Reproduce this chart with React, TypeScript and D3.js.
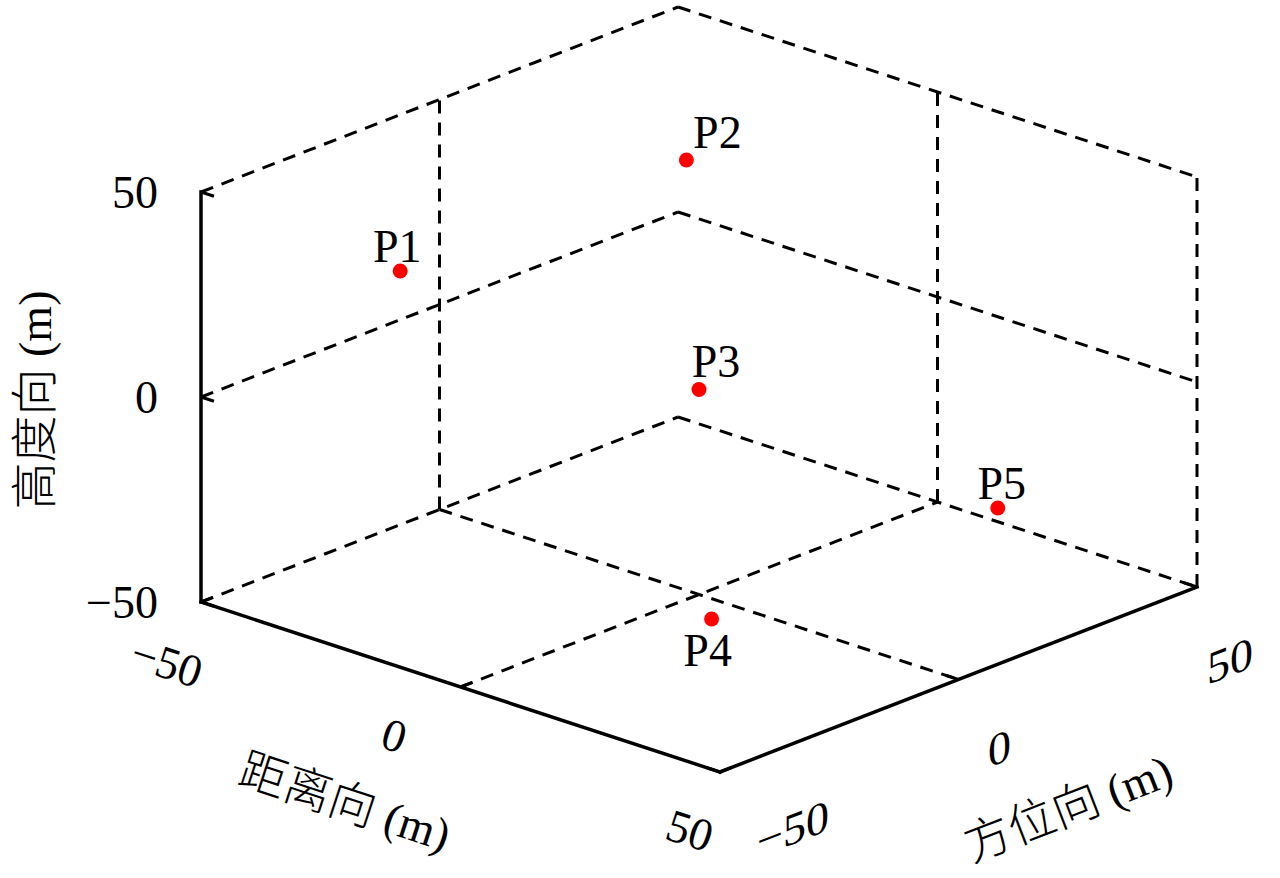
import React from 'react';
import * as d3 from 'd3';

// ticks on the three axes (m)
const rangeTicks = [-50, 0, 50];
const azimuthTicks = [-50, 0, 50];
const heightTicks = [-50, 0, 50];

// point targets: range, azimuth, height (m)
const pointNames = ['P1', 'P2', 'P3', 'P4', 'P5'];
const pointRange = [-30, -30, 0, 30, 30];
const pointAzimuth = [-30, 30, 0, -30, 30];
const pointHeight = [30, 30, 0, -30, -30];

// view: pixel position of the (-50,-50,-50) corner and the axis vectors
const ORIGIN = [201, 602];
const R_VEC = [519, 170];
const A_VEC = [477, -185];
const H_VEC = [0, -410];

const labelNudge = [[-3, -25], [31, -28], [17, -29], [-4, 31], [4, -25]];
const rangeLabelNudge = [[-34, 60], [-66, 48], [-30, 58]];
const azimuthLabelNudge = [[73, 56], [41, 68], [33, 73]];

const SERIF = '"Liberation Serif", "DejaVu Serif", serif';
const CJK = '"Noto Sans CJK SC", sans-serif';

export default function App() {
  const width = 1280;
  const height = 878;

  const rs = d3.scaleLinear().domain([-50, 50]).range([0, 1]);
  const as = d3.scaleLinear().domain([-50, 50]).range([0, 1]);
  const hs = d3.scaleLinear().domain([-50, 50]).range([0, 1]);

  const proj = (r: number, a: number, h: number): [number, number] => {
    const fr = rs(r), fa = as(a), fh = hs(h);
    return [
      ORIGIN[0] + fr * R_VEC[0] + fa * A_VEC[0] + fh * H_VEC[0],
      ORIGIN[1] + fr * R_VEC[1] + fa * A_VEC[1] + fh * H_VEC[1],
    ];
  };
  const line = d3.line();
  const seg = (p: number[], q: number[]) =>
    line([proj(p[0], p[1], p[2]), proj(q[0], q[1], q[2])]) as string;

  const [rMin, rMax] = rs.domain();
  const [aMin, aMax] = as.domain();
  const [hMin, hMax] = hs.domain();
  const inner = (v: number, lo: number, hi: number) => v !== lo && v !== hi;

  // dashed grid / back box lines
  const dashed: string[] = [];
  heightTicks.forEach(h => dashed.push(seg([rMin, aMin, h], [rMin, aMax, h])));
  azimuthTicks.filter(a => inner(a, aMin, aMax)).forEach(a => dashed.push(seg([rMin, a, hMin], [rMin, a, hMax])));
  heightTicks.forEach(h => dashed.push(seg([rMin, aMax, h], [rMax, aMax, h])));
  rangeTicks.filter(r => r !== rMin).forEach(r => dashed.push(seg([r, aMax, hMin], [r, aMax, hMax])));
  rangeTicks.filter(r => inner(r, rMin, rMax)).forEach(r => dashed.push(seg([r, aMin, hMin], [r, aMax, hMin])));
  azimuthTicks.filter(a => inner(a, aMin, aMax)).forEach(a => dashed.push(seg([rMin, a, hMin], [rMax, a, hMin])));

  // solid axes
  const solid = [
    seg([rMin, aMin, hMin], [rMin, aMin, hMax]),
    seg([rMin, aMin, hMin], [rMax, aMin, hMin]),
    seg([rMax, aMin, hMin], [rMax, aMax, hMin]),
  ];
  const tickLen = 2.5;
  const ticks = [
    ...heightTicks.map(h => seg([rMin, aMin, h], [rMin + tickLen, aMin, h])),
    ...rangeTicks.map(r => seg([r, aMin, hMin], [r, aMin + tickLen, hMin])),
    ...azimuthTicks.map(a => seg([rMax, a, hMin], [rMax - tickLen, a, hMin])),
  ];

  const fmt = (v: number) => (v < 0 ? '\u2212' + Math.abs(v) : String(v));
  const rAngle = (Math.atan2(R_VEC[1], R_VEC[0]) * 180) / Math.PI;
  const aAngle = (Math.atan2(A_VEC[1], A_VEC[0]) * 180) / Math.PI;

  return (
    <svg width={width} height={height} style={{ position: 'absolute', left: 0, top: 0, background: '#fff' }}>
      <g fill="none" stroke="#000">
        {dashed.map((d, i) => (
          <path key={'d' + i} d={d} strokeWidth={3} strokeDasharray="13,9" />
        ))}
        {solid.map((d, i) => (
          <path key={'s' + i} d={d} strokeWidth={3.5} strokeLinecap="square" />
        ))}
        {ticks.map((d, i) => (
          <path key={'t' + i} d={d} strokeWidth={3} />
        ))}
      </g>

      {/* height tick labels */}
      {heightTicks.map(h => {
        const [, y] = proj(rMin, aMin, h);
        return (
          <text key={'h' + h} x={158} y={y} dy="0.35em" textAnchor="end" fontFamily={SERIF} fontSize={46}>
            {fmt(h)}
          </text>
        );
      })}
      {/* range tick labels */}
      {rangeTicks.map((r, i) => {
        const [x, y] = proj(r, aMin, hMin);
        const cx = x + rangeLabelNudge[i][0];
        const cy = y + rangeLabelNudge[i][1];
        return (
          <text key={'r' + r} transform={`translate(${cx},${cy}) rotate(${rAngle})`} dy="0.35em"
            textAnchor="middle" fontFamily={SERIF} fontSize={46}>
            {fmt(r)}
          </text>
        );
      })}
      {/* azimuth tick labels */}
      {azimuthTicks.map((a, i) => {
        const [x, y] = proj(rMax, a, hMin);
        const cx = x + azimuthLabelNudge[i][0];
        const cy = y + azimuthLabelNudge[i][1];
        return (
          <text key={'a' + a} transform={`translate(${cx},${cy}) skewY(${aAngle})`} dy="0.35em"
            textAnchor="middle" fontFamily={SERIF} fontSize={46}>
            {fmt(a)}
          </text>
        );
      })}

      {/* axis titles */}
      <text transform={`translate(35,400) rotate(-90)`} dy="0.35em" textAnchor="middle" fontFamily={SERIF} fontSize={46}>
        <tspan fontFamily={CJK} fontWeight={300} fontSize={47}>高度向</tspan> (m)
      </text>
      <text transform={`translate(345,802) rotate(${rAngle})`} dy="0.35em" textAnchor="middle" fontFamily={SERIF} fontSize={46}>
        <tspan fontFamily={CJK} fontWeight={300} fontSize={47}>距离向</tspan> (m)
      </text>
      <text transform={`translate(1068,808) rotate(${aAngle})`} dy="0.35em" textAnchor="middle" fontFamily={SERIF} fontSize={46}>
        <tspan fontFamily={CJK} fontWeight={300} fontSize={47}>方位向</tspan> (m)
      </text>

      {/* point targets */}
      {pointNames.map((name, i) => {
        const [x, y] = proj(pointRange[i], pointAzimuth[i], pointHeight[i]);
        return (
          <g key={name}>
            <circle cx={x} cy={y} r={7.5} fill="#ff0000" />
            <text x={x + labelNudge[i][0]} y={y + labelNudge[i][1]} dy="0.35em" textAnchor="middle"
              fontFamily={SERIF} fontSize={46}>
              {name}
            </text>
          </g>
        );
      })}
    </svg>
  );
}
